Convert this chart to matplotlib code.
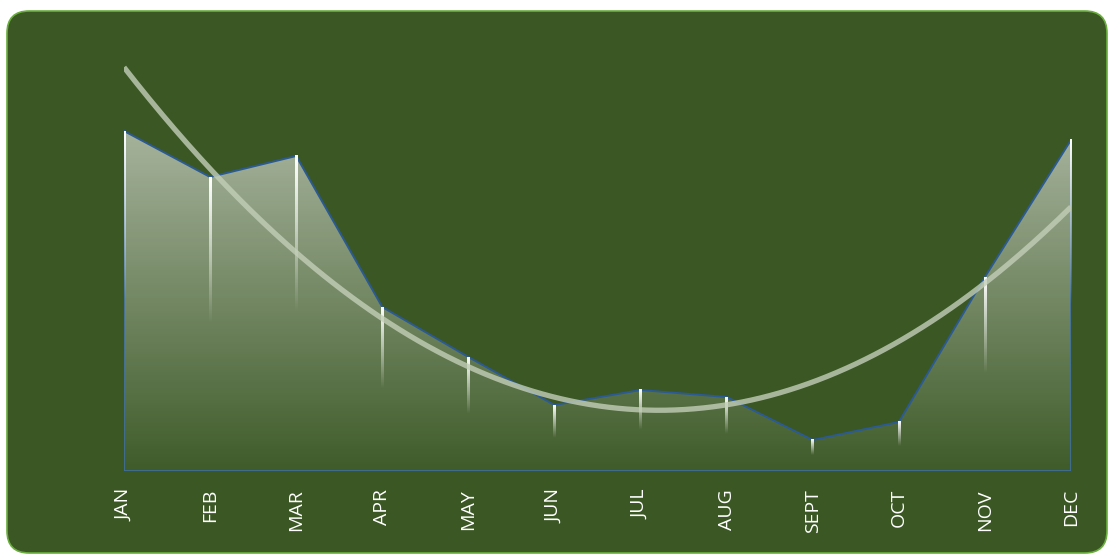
import matplotlib.pyplot as plt
import numpy as np
from matplotlib.patches import FancyBboxPatch, Polygon

months = ["JAN", "FEB", "MAR", "APR", "MAY", "JUN",
          "JUL", "AUG", "SEPT", "OCT", "NOV", "DEC"]
values = [340, 294, 315, 164, 114, 66, 81, 74, 31, 49, 194, 331]

BG = "#3A5724"
EDGE = "#2B5A94"

x = np.arange(len(months))
y = np.array(values, dtype=float)

fig = plt.figure(figsize=(11.09, 5.57), dpi=100)
fig.patch.set_facecolor("white")

# rounded green card behind the chart
card = FancyBboxPatch((7 / 1109, 4 / 557), 1100 / 1109, 542 / 557,
                      boxstyle="round,pad=0,rounding_size=0.02",
                      transform=fig.transFigure, facecolor=BG,
                      edgecolor="#6AAE3E", linewidth=1.2,
                      mutation_aspect=1109 / 557, zorder=-10)
fig.patches.append(card)

ax = fig.add_axes([124 / 1109, 86 / 557, 947 / 1109, 431 / 557])
ax.set_zorder(1)
ax.set_facecolor("none")
ax.set_xlim(0, len(months) - 1)
ax.set_ylim(0, 431)
for s in ax.spines.values():
    s.set_visible(False)
ax.set_yticks([])

# area with a white gradient fading towards the baseline
verts = np.vstack([[x[0], 0], np.column_stack([x, y]), [x[-1], 0]])
poly = Polygon(verts, closed=True, facecolor="none", edgecolor="none")
ax.add_patch(poly)
grad = np.linspace(0, 431, 256).reshape(-1, 1)
rgba = np.ones((256, 1, 4))
rgba[..., 3] = np.clip(0.03 + 0.52 * grad / y.max(), 0, 0.6)
img = ax.imshow(rgba, extent=[0, len(months) - 1, 0, 431], origin="lower",
                aspect="auto", zorder=1, interpolation="bilinear")
img.set_clip_path(poly)

# outline of the area
ax.plot(x, y, color=EDGE, lw=1.4, zorder=3, solid_joinstyle="round")
ax.plot([x[0], x[0], x[-1], x[-1]], [y[0], 0, 0, y[-1]],
        color="#3F6FA0", lw=1.2, zorder=2)

# drop lines fading from each point down to half its height
half_w = 1.3 / 947 * (len(months) - 1)
fade = np.ones((128, 1, 4))
fade[..., 3] = np.linspace(0, 1, 128).reshape(-1, 1)
for xi, yi in zip(x, y):
    ax.imshow(fade, extent=[xi - half_w, xi + half_w, yi / 2, yi],
              origin="lower", aspect="auto", zorder=4,
              interpolation="bilinear")
ax.set_xlim(0, len(months) - 1)
ax.set_ylim(0, 431)

# second-order polynomial trendline
coef = np.polyfit(x, y, 2)
xs = np.linspace(x[0], x[-1], 300)
ax.plot(xs, np.polyval(coef, xs), color="#C3CFB8", alpha=0.8, lw=3.8,
        zorder=5, solid_capstyle="butt")

ax.set_xticks(x)
ax.set_xticklabels(months, rotation=90, color="white", fontsize=14,
                   family=["Open Sans", "DejaVu Sans"])
ax.tick_params(axis="x", length=0, pad=13)

fig.savefig("out.png", dpi=100, facecolor=fig.get_facecolor())
